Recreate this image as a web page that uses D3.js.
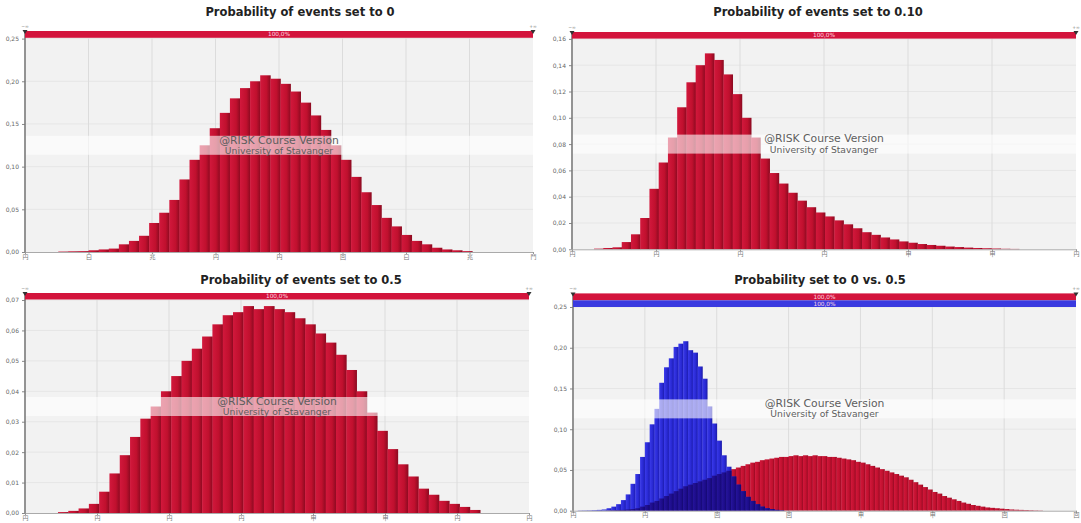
<!DOCTYPE html>
<html><head><meta charset="utf-8">
<script src="https://cdn.jsdelivr.net/npm/d3@7"></script>
<style>body{margin:0;background:#fff;} svg{display:block;}</style>
</head><body>
<svg id="c" width="1081" height="523"></svg>
<script>
// ---------- DATA ----------
const panelTitles = ["Probability of events set to 0", "Probability of events set to 0.10",
                     "Probability of events set to 0.5", "Probability set to 0 vs. 0.5"];
const watermarkLines = ["@RISK Course Version", "University of Stavanger"];
const rangeLabels = ["−∞", "+∞"];
const rangePercent = "100,0%";

const p0XLabels  = ["円","曰","兆","円","円","回","曰","兆","鬥"];
const p10XLabels = ["円","円","円","円","甲","甲","円"];
const p5XLabels  = ["円","円","円","円","甲","甲","円","円"];
const cmpXLabels = ["円","円","回","回","甲","甲","回","回"];

const p0YTicks  = [0, 0.05, 0.10, 0.15, 0.20, 0.25];
const p10YTicks = [0, 0.02, 0.04, 0.06, 0.08, 0.10, 0.12, 0.14, 0.16];
const p5YTicks  = [0, 0.01, 0.02, 0.03, 0.04, 0.05, 0.06, 0.07];
const cmpYTicks = [0, 0.05, 0.10, 0.15, 0.20, 0.25];

// histogram bin probabilities (left to right)
const p0Values = [0.0005,0.0008,0.001,0.002,0.003,0.004,0.009,0.013,0.019,0.034,0.046,0.061,0.085,0.108,
  0.125,0.145,0.163,0.180,0.192,0.200,0.207,0.203,0.197,0.188,0.175,0.160,0.143,0.125,0.108,0.088,
  0.070,0.055,0.040,0.030,0.020,0.013,0.009,0.005,0.003,0.002,0.001];
const p10Values = [0.0005,0.001,0.0015,0.0055,0.0114,0.0238,0.046,0.066,0.085,0.108,0.127,0.140,0.149,0.144,
  0.133,0.118,0.100,0.085,0.069,0.058,0.050,0.043,0.037,0.032,0.028,0.025,0.022,0.019,0.016,0.013,
  0.011,0.009,0.0075,0.006,0.005,0.004,0.0033,0.0027,0.0021,0.0017,0.0013,0.001,0.0008,0.0006,0.0004,0.0003];
const p5Values = [0.0003,0.0007,0.0015,0.003,0.007,0.013,0.019,0.025,0.031,0.035,0.040,0.045,0.050,0.054,
  0.058,0.062,0.065,0.066,0.068,0.067,0.068,0.067,0.066,0.064,0.062,0.059,0.056,0.052,0.047,0.040,
  0.033,0.027,0.021,0.016,0.012,0.008,0.006,0.004,0.003,0.002,0.001];
const cmpBlueValues = [0.0003,0.0004,0.0005,0.0007,0.001,0.0015,0.003,0.005,0.008,0.013,0.020,0.033,0.045,
  0.066,0.084,0.106,0.125,0.157,0.176,0.187,0.201,0.205,0.208,0.197,0.194,0.177,0.162,0.128,0.107,
  0.086,0.068,0.054,0.042,0.032,0.024,0.017,0.012,0.008,0.005,0.003,0.002,0.001,0.0005];
const cmpRedValues = [0.0003,0.0005,0.0007,0.001,0.0015,0.002,0.003,0.005,0.007,0.010,0.012,0.015,0.018,
  0.021,0.024,0.027,0.030,0.032,0.034,0.036,0.038,0.040,0.043,0.045,0.047,0.049,0.051,0.053,0.055,
  0.057,0.059,0.060,0.062,0.063,0.064,0.065,0.066,0.066,0.067,0.068,0.067,0.068,0.067,0.068,0.067,
  0.067,0.066,0.066,0.065,0.064,0.063,0.062,0.060,0.059,0.057,0.055,0.053,0.051,0.049,0.047,0.045,
  0.043,0.041,0.038,0.035,0.032,0.029,0.026,0.023,0.021,0.018,0.016,0.014,0.012,0.010,0.0085,0.007,
  0.006,0.005,0.004,0.0035,0.003,0.0025,0.002,0.0015,0.0012,0.001,0.0008,0.0006,0.0004,0.0003];

// ---------- DRAWING ----------
const svg = d3.select("#c");
const defs = svg.append("defs");
function grad(id, stops) {
  const g = defs.append("linearGradient").attr("id", id).attr("x1", 0).attr("x2", 1).attr("y1", 0).attr("y2", 0);
  stops.forEach(([o, c]) => g.append("stop").attr("offset", o).attr("stop-color", c));
}
grad("gRed",  [[0, "#d2183c"], [0.6, "#c0102e"], [1, "#8a0a20"]]);
grad("gBlue", [[0, "#3a3aea"], [0.6, "#2828d2"], [1, "#1a1aa6"]]);
grad("gNavy", [[0, "#26149c"], [0.6, "#1c0c88"], [1, "#120868"]]);

const fmtY = d => d3.format(".2f")(d).replace(".", ",");
const font = "'DejaVu Sans', Verdana, sans-serif";

function drawPanel(cfg) {
  const g = svg.append("g");
  const n = cfg.xLabels.length - 1;
  const x = d3.scaleLinear().domain([0, n]).range([cfg.left, cfg.right]);
  const y = d3.scaleLinear().domain([0, cfg.yMax]).range([cfg.bottom, cfg.top]);

  g.append("rect").attr("x", cfg.left).attr("y", cfg.top).attr("width", cfg.right - cfg.left)
    .attr("height", cfg.bottom - cfg.top).attr("fill", "#f2f2f2");
  g.selectAll(null).data(cfg.yTicks.slice(1)).join("line")
    .attr("x1", cfg.left).attr("x2", cfg.right).attr("y1", d => y(d)).attr("y2", d => y(d))
    .attr("stroke", "#e6e6e6").attr("stroke-width", 1);
  g.selectAll(null).data(d3.range(1, n)).join("line")
    .attr("x1", d => x(d)).attr("x2", d => x(d)).attr("y1", cfg.top).attr("y2", cfg.bottom)
    .attr("stroke", "#dcdcdc").attr("stroke-width", 1);

  cfg.series.forEach(s => {
    g.selectAll(null).data(s.values).join("rect")
      .attr("x", (d, i) => x(s.start + i * s.width))
      .attr("width", x(s.width) - x(0) + 0.4)
      .attr("y", d => y(d))
      .attr("height", d => y(0) - y(d))
      .attr("fill", s.fill);
  });

  // watermark band
  const mid = (cfg.top + cfg.bottom) / 2;
  g.append("rect").attr("x", cfg.left).attr("y", mid - 9.5).attr("width", cfg.right - cfg.left)
    .attr("height", 19).attr("fill", "#fff").attr("opacity", 0.6);
  g.append("text").attr("x", (cfg.left + cfg.right) / 2).attr("y", mid - 1.8)
    .attr("text-anchor", "middle").attr("font-family", font).attr("font-size", 10.8)
    .attr("fill", "#5e5e5e").text(watermarkLines[0]);
  g.append("text").attr("x", (cfg.left + cfg.right) / 2).attr("y", mid + 8.6)
    .attr("text-anchor", "middle").attr("font-family", font).attr("font-size", 9.2)
    .attr("fill", "#5e5e5e").text(watermarkLines[1]);

  // axes
  const ya = g.append("g").attr("transform", `translate(${cfg.left},0)`)
    .call(d3.axisLeft(y).tickValues(cfg.yTicks).tickFormat(fmtY).tickSize(3).tickPadding(3));
  ya.select(".domain").remove();
  ya.selectAll("line").attr("stroke", "#888");
  ya.selectAll("text").attr("font-family", font).attr("font-size", 6).attr("fill", "#666");
  const xa = g.append("g").attr("transform", `translate(0,${cfg.bottom})`)
    .call(d3.axisBottom(x).tickValues(d3.range(n + 1)).tickFormat((d, i) => cfg.xLabels[i]).tickSize(2).tickPadding(0.5));
  xa.select(".domain").attr("stroke", "#aaa");
  xa.selectAll("line").attr("stroke", "#999");
  xa.selectAll("text").attr("font-family", "'Noto Sans CJK SC', sans-serif").attr("font-size", 6).attr("fill", "#777");
  g.append("line").attr("x1", cfg.left).attr("x2", cfg.left).attr("y1", cfg.barTop).attr("y2", cfg.bottom)
    .attr("stroke", "#7a7a7a").attr("stroke-width", 1.6);

  // range bars at top
  cfg.rangeBars.forEach((rb, k) => {
    g.append("rect").attr("x", cfg.left).attr("y", rb.y0).attr("width", cfg.right - cfg.left)
      .attr("height", rb.y1 - rb.y0).attr("fill", rb.fill);
    g.append("text").attr("x", (cfg.left + cfg.right) / 2).attr("y", (rb.y0 + rb.y1) / 2 + 2)
      .attr("text-anchor", "middle").attr("font-family", font).attr("font-size", 5.8)
      .attr("fill", "#ffd8e0").text(rangePercent);
  });
  [cfg.left, cfg.right].forEach((px, k) => {
    g.append("path").attr("d", `M${px - 2.5},${cfg.barTop - 1} L${px + 2.5},${cfg.barTop - 1} L${px},${cfg.barTop + 3} Z`)
      .attr("fill", "#333");
    g.append("text").attr("x", px).attr("y", cfg.barTop - 3.5).attr("text-anchor", "middle")
      .attr("font-family", font).attr("font-size", 4.5).attr("fill", "#777").text(rangeLabels[k]);
  });

  g.append("text").attr("x", cfg.titleX).attr("y", cfg.titleY).attr("text-anchor", "middle")
    .attr("font-family", font).attr("font-weight", "bold").attr("font-size", 11.5)
    .attr("fill", "#222").text(cfg.title);
}

// overlap of the two comparison series (same bin grid, red offset 6 bins)
const cmpOverlap = cmpRedValues.map((r, i) => Math.min(r, cmpBlueValues[i + 6] || 0));

drawPanel({ title: panelTitles[0], titleX: 300, titleY: 16, left: 25, right: 533, top: 38.6, bottom: 252, barTop: 31,
  yMax: 0.25, yTicks: p0YTicks, xLabels: p0XLabels,
  rangeBars: [{ y0: 31, y1: 37.8, fill: "#d3143c" }],
  series: [{ values: p0Values, start: 0.524, width: 0.159, fill: "url(#gRed)" }] });
drawPanel({ title: panelTitles[1], titleX: 818, titleY: 16, left: 572, right: 1076, top: 38.9, bottom: 249.3, barTop: 32,
  yMax: 0.16, yTicks: p10YTicks, xLabels: p10XLabels,
  rangeBars: [{ y0: 32, y1: 38.6, fill: "#d3143c" }],
  series: [{ values: p10Values, start: 0.262, width: 0.110, fill: "url(#gRed)" }] });
drawPanel({ title: panelTitles[2], titleX: 301, titleY: 284, left: 25, right: 529, top: 300, bottom: 513, barTop: 293,
  yMax: 0.07, yTicks: p5YTicks, xLabels: p5XLabels,
  rangeBars: [{ y0: 293, y1: 299.5, fill: "#d3143c" }],
  series: [{ values: p5Values, start: 0.458, width: 0.143, fill: "url(#gRed)" }] });
drawPanel({ title: panelTitles[3], titleX: 820, titleY: 284, left: 573, right: 1076, top: 307, bottom: 510.7, barTop: 293.4,
  yMax: 0.25, yTicks: cmpYTicks, xLabels: cmpXLabels,
  rangeBars: [{ y0: 293.4, y1: 300.3, fill: "#d3143c" }, { y0: 300.3, y1: 307, fill: "#3a3ae0" }],
  series: [
    { values: cmpRedValues, start: 7 / 15, width: 1 / 15, fill: "url(#gRed)" },
    { values: cmpBlueValues, start: 1 / 15, width: 1 / 15, fill: "url(#gBlue)" },
    { values: cmpOverlap, start: 7 / 15, width: 1 / 15, fill: "url(#gNavy)" }
  ] });
</script>
</body></html>
